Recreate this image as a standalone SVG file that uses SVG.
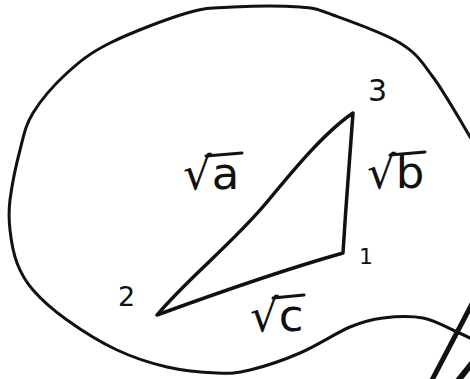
<svg xmlns="http://www.w3.org/2000/svg" width="470" height="379" viewBox="0 0 470 379">
<style>
.ln{fill:none;stroke:#111;stroke-linecap:round;stroke-linejoin:round}
.lb{font-family:"DejaVu Sans",sans-serif;fill:#111}
.bar{stroke:#111;stroke-width:3;stroke-linecap:round}
</style>
<rect width="470" height="379" fill="#fff"/>
<g id="connectors">
<path id="blob" class="ln" stroke-width="3" d="M472,140 C465.5,129.5 445,93.2 433,77 C421,60.8 416.7,53.3 400,43 C383.3,32.7 349.7,21 333,15 C316.3,9 316.7,8.3 300,7 C283.3,5.7 251.8,6 233,7 C214.2,8 207.5,7 187,13 C166.5,19 130,33 110,43 C90,53 79.8,61.3 67,73 C54.2,84.7 40.8,100.2 33,113 C25.2,125.8 23.8,135.5 20,150 C16.2,164.5 11.7,186.7 10,200 C8.3,213.3 8.8,219.5 10,230 C11.2,240.5 13.2,253 17,263 C20.8,273 24.7,280.5 33,290 C41.3,299.5 53,310 67,320 C81,330 100.3,342.2 117,350 C133.7,357.8 150.3,363.2 167,367 C183.7,370.8 203.2,372.5 217,373 C230.8,373.5 236.2,373.3 250,370 C263.8,366.7 283.3,360.2 300,353 C316.7,345.8 336.2,332.8 350,327 C363.8,321.2 370.8,319.5 383,318 C395.2,316.5 410.7,315.7 423,318 C435.3,320.3 448.8,328.5 457,332 C465.2,335.5 469.5,337.8 472,339"/>
<path id="stroke-br1" class="ln" stroke-width="5" d="M431,382 L473,302"/>
<path id="stroke-br2" class="ln" stroke-width="6" d="M457,382 L473,362"/>
<path id="triangle" class="ln" stroke-width="3.5" d="M353,113 C325,132 295,168 267,202 C232,244 188,278 157,315 C220,292 290,268 343,253 C346,205 350,150 353,113 Z"/>
</g>
<g id="label-3"><text class="lb" x="368" y="101" font-size="30">3</text></g>
<g id="label-1"><text class="lb" x="359" y="264" font-size="22">1</text></g>
<g id="label-2"><text class="lb" x="118" y="306" font-size="27">2</text></g>
<g id="label-a"><text class="lb" x="183" y="189" font-size="45">√a</text><line class="bar" x1="206" y1="156" x2="242" y2="153"/></g>
<g id="label-b"><text class="lb" x="367" y="188" font-size="45">√b</text><line class="bar" x1="390" y1="155" x2="425" y2="152"/></g>
<g id="label-c"><text class="lb" x="250" y="331" font-size="45">√c</text><line class="bar" x1="273" y1="298" x2="304" y2="295"/></g>
</svg>
